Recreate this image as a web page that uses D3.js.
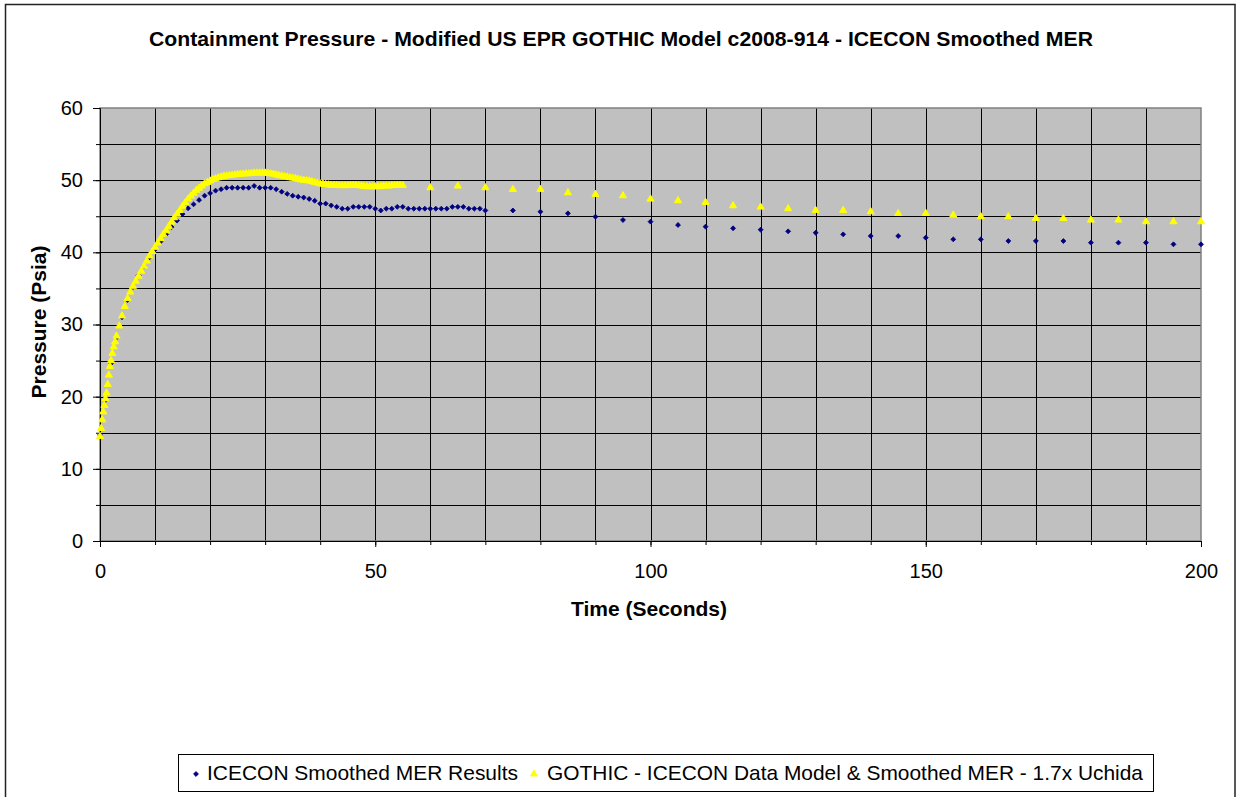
<!DOCTYPE html>
<html>
<head>
<meta charset="utf-8">
<script src="https://cdn.jsdelivr.net/npm/d3@7"></script>
<style>
  body { margin: 0; background: #fff; }
  text { font-family: Arial, "Liberation Sans", sans-serif; }
</style>
</head>
<body>
<div id="chart"></div>
<script>
'use strict';

// ICECON Smoothed MER Results (time s, pressure psia)
const iceconTime = [
  0, 1, 2, 3, 4, 5, 6, 7, 8, 9, 10, 11, 12, 13, 14, 15, 16, 17, 18, 19,
  20, 21, 22, 23, 24, 25, 26, 27, 28, 29, 30, 31, 32, 33, 34, 35, 36, 37, 38, 39,
  40, 41, 42, 43, 44, 45, 46, 47, 48, 49, 50, 51, 52, 53, 54, 55, 56, 57, 58, 59,
  60, 61, 62, 63, 64, 65, 66, 67, 68, 69, 70,
  75, 80, 85, 90, 95, 100, 105, 110, 115, 120, 125, 130, 135, 140, 145, 150,
  155, 160, 165, 170, 175, 180, 185, 190, 195, 200,
];
const iceconPressure = [
  14.7, 19.5, 24.6, 28.2, 31.0, 33.4, 35.2, 36.8, 38.1, 39.3, 40.4, 41.5, 42.5, 43.5, 44.4, 45.3, 46.1, 46.65, 47.25, 47.85,
  48.2, 48.55, 48.75, 48.95, 48.95, 48.95, 48.95, 48.95, 49.2, 48.95, 48.95, 48.95, 48.75, 48.4, 48.1, 47.85, 47.7, 47.6, 47.4, 47.15,
  46.75, 46.75, 46.5, 46.3, 46.05, 46.05, 46.3, 46.3, 46.3, 46.3, 46.05, 45.8, 46.05, 46.05, 46.3, 46.3, 46.05, 46.05, 46.05, 46.05,
  46.05, 46.05, 46.05, 46.05, 46.3, 46.3, 46.3, 46.05, 46.05, 46.05, 45.8,
  45.8, 45.63, 45.4, 44.94, 44.48, 44.25, 43.79, 43.56, 43.33, 43.14, 42.91, 42.72, 42.49, 42.26, 42.26, 42.03,
  41.8, 41.8, 41.57, 41.57, 41.57, 41.34, 41.34, 41.34, 41.11, 41.11,
];

// GOTHIC - ICECON Data Model & Smoothed MER - 1.7x Uchida
const gothicTime = [
  0, 0.2, 0.4, 0.6, 0.8, 1, 1.2, 1.4, 1.6, 1.8, 2, 2.25, 2.5, 2.75, 3,
  3.5, 4, 4.5, 5, 5.5, 6, 6.5, 7, 7.5, 8, 8.5, 9, 9.5, 10, 10.5, 11, 11.5, 12, 12.5, 13, 13.5, 14, 14.5,
  15, 15.5, 16, 16.5, 17, 17.5, 18, 18.5, 19, 19.5, 20, 20.5, 21, 21.5, 22, 22.5, 23, 23.5, 24, 24.5,
  25, 25.5, 26, 26.5, 27, 27.5, 28, 28.5, 29, 29.5, 30, 30.5, 31, 31.5, 32, 32.5, 33, 33.5, 34, 34.5,
  35, 35.5, 36, 36.5, 37, 37.5, 38, 38.5, 39, 39.5, 40, 40.5, 41, 41.5, 42, 42.5, 43, 43.5, 44, 44.5,
  45, 45.5, 46, 46.5, 47, 47.5, 48, 48.5, 49, 49.5, 50, 50.5, 51, 51.5, 52, 52.5, 53, 53.5, 54, 54.5, 55,
  60, 65, 70, 75, 80, 85, 90, 95, 100, 105, 110, 115, 120, 125, 130, 135, 140, 145, 150,
  155, 160, 165, 170, 175, 180, 185, 190, 195, 200,
];
const gothicPressure = [
  14.5, 15.6, 16.8, 17.9, 18.8, 19.7, 20.5, 21.7, 23.0, 24.2, 25.0, 26.0, 26.9, 27.6, 28.4,
  29.8, 31.2, 32.5, 33.6, 34.5, 35.3, 36.0, 36.7, 37.4, 38.1, 38.8, 39.5, 40.1, 40.7, 41.3, 41.9, 42.5, 43.0, 43.6, 44.2, 44.8, 45.3, 45.8,
  46.4, 46.9, 47.4, 47.8, 48.2, 48.6, 48.9, 49.2, 49.5, 49.7, 49.9, 50.1, 50.2, 50.35, 50.45, 50.55, 50.6, 50.65, 50.7, 50.75,
  50.8, 50.85, 50.85, 50.9, 50.9, 50.95, 51.0, 51.0, 51.0, 51.0, 51.0, 50.95, 50.9, 50.85, 50.75, 50.65, 50.6, 50.5, 50.45, 50.35,
  50.3, 50.25, 50.15, 50.05, 50.0, 49.95, 49.9, 49.8, 49.7, 49.6, 49.5, 49.45, 49.4, 49.35, 49.3, 49.3, 49.3, 49.25, 49.25, 49.25,
  49.25, 49.3, 49.3, 49.3, 49.25, 49.2, 49.15, 49.1, 49.1, 49.1, 49.1, 49.1, 49.15, 49.2, 49.2, 49.2, 49.25, 49.3, 49.3, 49.3, 49.3,
  48.96, 49.19, 48.96, 48.73, 48.73, 48.26, 48.03, 47.85, 47.39, 47.16, 46.93, 46.46, 46.28, 46.05, 45.82, 45.82, 45.63, 45.4, 45.4,
  45.17, 44.94, 44.94, 44.71, 44.71, 44.48, 44.48, 44.25, 44.25, 44.25,
];

const seriesNames = [
  'ICECON Smoothed MER Results',
  'GOTHIC - ICECON Data Model & Smoothed MER - 1.7x Uchida',
];
const xTicks = [0, 50, 100, 150, 200];
const yTicks = [0, 10, 20, 30, 40, 50, 60];

const width = 1241;
const height = 797;
const margin = { top: 108, right: 40, bottom: 256, left: 100 };
const fontFamily = 'Arial, "Liberation Sans", sans-serif';

const svg = d3.select('#chart')
  .append('svg')
  .attr('width', width)
  .attr('height', height);

// outer chart border
svg.append('rect')
  .attr('x', 5.5)
  .attr('y', 4.5)
  .attr('width', 1229.5)
  .attr('height', 820)
  .attr('fill', '#fff')
  .attr('stroke', '#222')
  .attr('stroke-width', 1.5);

const x = d3.scaleLinear()
  .domain([0, 200])
  .range([margin.left, width - margin.right]);

const y = d3.scaleLinear()
  .domain([0, 60])
  .range([height - margin.bottom, margin.top]);

// plot area
svg.append('rect')
  .attr('x', x(0))
  .attr('y', y(60))
  .attr('width', x(200) - x(0))
  .attr('height', y(0) - y(60))
  .attr('fill', '#c0c0c0');

// grid
svg.append('g')
  .selectAll('line')
  .data(d3.range(10, 200, 10))
  .join('line')
  .attr('x1', (d) => Math.round(x(d)) + 0.5)
  .attr('x2', (d) => Math.round(x(d)) + 0.5)
  .attr('y1', y(60))
  .attr('y2', y(0))
  .attr('stroke', '#000')
  .attr('stroke-width', 1);

svg.append('g')
  .selectAll('line')
  .data(d3.range(5, 60, 5))
  .join('line')
  .attr('x1', x(0))
  .attr('x2', x(200))
  .attr('y1', (d) => Math.round(y(d)) + 0.5)
  .attr('y2', (d) => Math.round(y(d)) + 0.5)
  .attr('stroke', '#000')
  .attr('stroke-width', 1);

// plot border
svg.append('rect')
  .attr('x', x(0))
  .attr('y', y(60))
  .attr('width', x(200) - x(0))
  .attr('height', y(0) - y(60))
  .attr('fill', 'none')
  .attr('stroke', '#808080')
  .attr('stroke-width', 1.5);

// axes
svg.append('g')
  .attr('transform', `translate(0, ${y(0)})`)
  .call(d3.axisBottom(x).tickValues(d3.range(0, 201, 10)).tickSize(4).tickFormat(''))
  .call((g) => g.select('.domain').attr('stroke', '#000'));
svg.append('g')
  .attr('transform', `translate(0, ${y(0)})`)
  .call(d3.axisBottom(x).tickValues(xTicks).tickSize(6).tickPadding(17))
  .call((g) => g.select('.domain').remove())
  .call((g) => g.selectAll('text')
    .attr('font-size', '20px')
    .attr('fill', '#000')
    .attr('font-family', fontFamily));

svg.append('g')
  .attr('transform', `translate(${x(0)}, 0)`)
  .call(d3.axisLeft(y).tickValues(d3.range(0, 61, 5)).tickSize(4).tickFormat(''))
  .call((g) => g.select('.domain').attr('stroke', '#000'));
svg.append('g')
  .attr('transform', `translate(${x(0)}, 0)`)
  .call(d3.axisLeft(y).tickValues(yTicks).tickSize(7).tickPadding(10))
  .call((g) => g.select('.domain').remove())
  .call((g) => g.selectAll('text')
    .attr('font-size', '20px')
    .attr('fill', '#000')
    .attr('font-family', fontFamily));

// titles
svg.append('text')
  .attr('x', 621)
  .attr('y', 46)
  .attr('text-anchor', 'middle')
  .attr('font-size', '21px')
  .attr('font-weight', 'bold')
  .attr('textLength', 944)
  .attr('lengthAdjust', 'spacingAndGlyphs')
  .text('Containment Pressure - Modified US EPR GOTHIC Model c2008-914 - ICECON Smoothed MER');

svg.append('text')
  .attr('x', 649)
  .attr('y', 616)
  .attr('text-anchor', 'middle')
  .attr('font-size', '21px')
  .attr('font-weight', 'bold')
  .text('Time (Seconds)');

svg.append('text')
  .attr('transform', 'translate(46, 322) rotate(-90)')
  .attr('text-anchor', 'middle')
  .attr('font-size', '21px')
  .attr('font-weight', 'bold')
  .text('Pressure (Psia)');

// series
const icecon = iceconTime.map((t, i) => [t, iceconPressure[i]]);
const gothic = gothicTime.map((t, i) => [t, gothicPressure[i]]);

const diamond = d3.symbol().type(d3.symbolSquare).size(12);
const triangle = d3.symbol().type(d3.symbolTriangle).size(22);

svg.append('g')
  .selectAll('path')
  .data(icecon)
  .join('path')
  .attr('transform', (d) => `translate(${x(d[0])}, ${y(d[1])}) rotate(45)`)
  .attr('d', diamond)
  .attr('fill', '#000080')
  .attr('stroke', '#000080')
  .attr('stroke-width', 0.8);

svg.append('g')
  .selectAll('path')
  .data(gothic)
  .join('path')
  .attr('transform', (d) => `translate(${x(d[0])}, ${y(d[1])})`)
  .attr('d', triangle)
  .attr('fill', '#ffff00')
  .attr('stroke', '#ffff00')
  .attr('stroke-width', 1);

// legend
const legend = svg.append('g');
legend.append('rect')
  .attr('x', 178.5)
  .attr('y', 754.5)
  .attr('width', 975)
  .attr('height', 37)
  .attr('fill', '#fff')
  .attr('stroke', '#000')
  .attr('stroke-width', 1);

const legendItems = [
  { name: seriesNames[0], mx: 196, tx: 207, len: 311, sym: diamond, rot: 45, color: '#000080' },
  { name: seriesNames[1], mx: 534, tx: 547, len: 596, sym: triangle, rot: 0, color: '#ffff00' },
];

const items = legend.selectAll('g')
  .data(legendItems)
  .join('g');

items.append('path')
  .attr('transform', (d) => `translate(${d.mx}, 774) rotate(${d.rot})`)
  .attr('d', (d) => d.sym())
  .attr('fill', (d) => d.color)
  .attr('stroke', (d) => d.color)
  .attr('stroke-width', 0.8);

items.append('text')
  .attr('x', (d) => d.tx)
  .attr('y', 780)
  .attr('font-size', '21px')
  .attr('fill', '#000')
  .attr('textLength', (d) => d.len)
  .attr('lengthAdjust', 'spacingAndGlyphs')
  .text((d) => d.name);
</script>
</body>
</html>
